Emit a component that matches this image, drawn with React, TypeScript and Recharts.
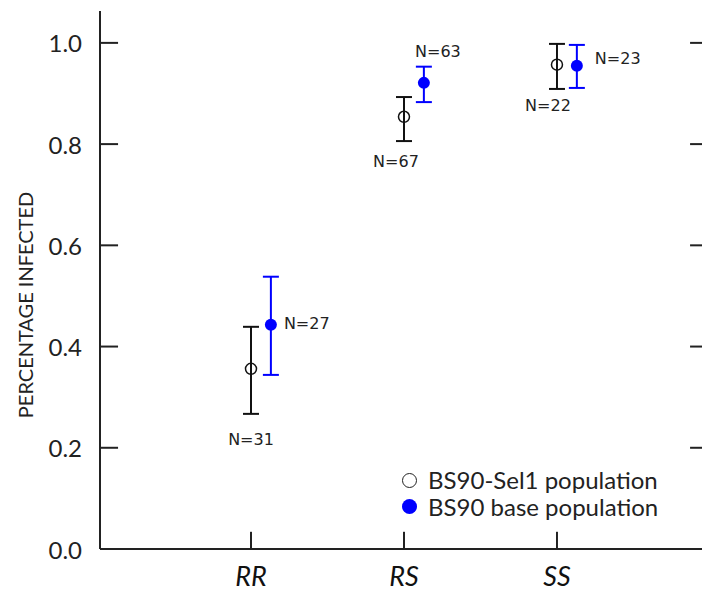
import React from 'react';
import { ScatterChart, Scatter, XAxis, YAxis, ErrorBar, Legend, ReferenceLine } from 'recharts';

// genotype classes along the x axis
const genotypes = ['RR', 'RS', 'SS'];

// BS90-Sel1 population (open circles)
const sel1Mean = [0.356, 0.854, 0.957];
const sel1Low = [0.267, 0.806, 0.909];
const sel1High = [0.439, 0.893, 0.998];
const sel1N = [31, 67, 22];

// BS90 base population (filled blue)
const baseMean = [0.443, 0.921, 0.955];
const baseLow = [0.344, 0.883, 0.911];
const baseHigh = [0.538, 0.953, 0.996];
const baseN = [27, 63, 23];

const yTicks = [0, 0.2, 0.4, 0.6, 0.8, 1.0];
const xTicks = [1, 2, 3];

// where each N= label sits relative to its point
const sel1LabelPos = [
  { dx: 0, dy: 71, anchor: 'middle' },
  { dx: -8, dy: 45, anchor: 'middle' },
  { dx: -9, dy: 41, anchor: 'middle' },
];
const baseLabelPos = [
  { dx: 13, dy: -1, anchor: 'start' },
  { dx: 14, dy: -31, anchor: 'middle' },
  { dx: 18, dy: -7, anchor: 'start' },
];

const BASE_OFFSET = 0.13; // blue points shifted right of the tick

const X_DOMAIN = [0.013, 3.948];
const Y_DOMAIN = [0, 1.063];
// inward tick lengths, in axis units (about 18px / 12px / 17px)
const LEFT_TICK = 0.118;
const RIGHT_TICK = 0.078;
const BOTTOM_TICK = 0.034;

const buildSeries = (mean: number[], low: number[], high: number[], n: number[], shift: number) =>
  mean.map((m, i) => ({
    x: i + 1 + shift,
    y: m,
    err: [m - low[i], high[i] - m],
    n: n[i],
    idx: i,
  }));

const sel1Data = buildSeries(sel1Mean, sel1Low, sel1High, sel1N, 0);
const baseData = buildSeries(baseMean, baseLow, baseHigh, baseN, BASE_OFFSET);

const FONT = 'Lato, "Open Sans", sans-serif';
const INK = '#222';
const AXIS = { stroke: INK, strokeWidth: 2 };

const LeftTick = (props: any) => {
  const { x, y, payload } = props;
  return (
    <text x={Number(x)} y={Number(y)} textAnchor="end" dominantBaseline="central" fontFamily={FONT} fontSize={24} fill={INK}>
      {Number(payload.value).toFixed(1)}
    </text>
  );
};

const BottomTick = (props: any) => {
  const { x, y, payload } = props;
  return (
    <text x={Number(x)} y={Number(y)} textAnchor="middle" dominantBaseline="central" fontFamily={FONT} fontStyle="italic" fontSize={27} fill="#111">
      {genotypes[payload.value - 1]}
    </text>
  );
};

const YLabel = (props: any) => {
  const { viewBox } = props;
  const cx = viewBox.x + 25;
  const cy = viewBox.y + viewBox.height / 2 + 25;
  return (
    <text
      x={cx}
      y={cy}
      transform={`rotate(-90 ${cx} ${cy})`}
      textAnchor="middle"
      dominantBaseline="central"
      fontFamily={FONT}
      fontSize={20}
      fill={INK}
    >
      PERCENTAGE INFECTED
    </text>
  );
};

const makeShape = (filled: boolean, placement: any[]) => (props: any) => {
  const { cx, cy, payload } = props;
  const p = placement[payload.idx];
  return (
    <g>
      {filled ? (
        <circle cx={cx} cy={cy} r={6} fill="#0000ff" />
      ) : (
        <circle cx={cx} cy={cy} r={5.5} fill="none" stroke="#111" strokeWidth={1.5} />
      )}
      <text
        x={cx + p.dx}
        y={cy + p.dy}
        textAnchor={p.anchor}
        dominantBaseline="central"
        fontFamily='"DejaVu Sans", sans-serif'
        fontSize={16}
        fill={INK}
      >
        N={payload.n}
      </text>
    </g>
  );
};

const LegendBox = () => (
  <div style={{ fontFamily: FONT, fontSize: 24, color: INK, lineHeight: '27px' }}>
    <div style={{ display: 'flex', alignItems: 'center' }}>
      <span style={{ display: 'inline-block', width: 13, height: 13, borderRadius: '50%', border: `1.2px solid ${INK}`, margin: '2px 11px 0 1px' }} />
      <span>BS90-Sel1 population</span>
    </div>
    <div style={{ display: 'flex', alignItems: 'center' }}>
      <span style={{ display: 'inline-block', width: 15, height: 15, borderRadius: '50%', background: '#0000ff', margin: '0 11px 0 1px' }} />
      <span>BS90 base population</span>
    </div>
  </div>
);

export default function App() {
  return (
    <div style={{ position: 'absolute', left: 0, top: 0 }}>
      <ScatterChart width={702} height={590} margin={{ top: 11, right: 0, bottom: 0, left: 0 }}>
        <XAxis
          type="number"
          dataKey="x"
          domain={X_DOMAIN}
          ticks={xTicks}
          height={41}
          tickSize={0}
          tickMargin={26}
          tickLine={false}
          axisLine={AXIS}
          tick={<BottomTick />}
          allowDataOverflow
        />
        <XAxis xAxisId="top" orientation="top" type="number" domain={[0, 1]} height={0} tick={false} tickLine={false} axisLine={AXIS} />
        <YAxis
          type="number"
          dataKey="y"
          domain={Y_DOMAIN}
          ticks={yTicks}
          width={100}
          tickSize={0}
          tickMargin={18}
          tickLine={false}
          axisLine={AXIS}
          tick={<LeftTick />}
          allowDataOverflow
          label={<YLabel />}
        />
        {/* inward tick marks on left, right and bottom */}
        {yTicks.map((t) => (
          <ReferenceLine
            key={`l${t}`}
            segment={[{ x: X_DOMAIN[0], y: t }, { x: X_DOMAIN[0] + LEFT_TICK, y: t }]}
            stroke={INK}
            strokeWidth={2}
            ifOverflow="visible"
          />
        ))}
        {yTicks.map((t) => (
          <ReferenceLine
            key={`r${t}`}
            segment={[{ x: X_DOMAIN[1] - RIGHT_TICK, y: t }, { x: X_DOMAIN[1], y: t }]}
            stroke={INK}
            strokeWidth={2}
            ifOverflow="visible"
          />
        ))}
        {xTicks.map((t) => (
          <ReferenceLine
            key={`b${t}`}
            segment={[{ x: t, y: Y_DOMAIN[0] }, { x: t, y: Y_DOMAIN[0] + BOTTOM_TICK }]}
            stroke={INK}
            strokeWidth={2}
            ifOverflow="visible"
          />
        ))}
        <Legend
          layout="vertical"
          align="center"
          verticalAlign="middle"
          content={<LegendBox />}
          wrapperStyle={{ left: 401, top: 466, width: 290 }}
        />
        <Scatter name="BS90-Sel1 population" data={sel1Data} shape={makeShape(false, sel1LabelPos)} isAnimationActive={false}>
          <ErrorBar dataKey="err" direction="y" width={8} stroke="#111" strokeWidth={2} isAnimationActive={false} />
        </Scatter>
        <Scatter name="BS90 base population" data={baseData} shape={makeShape(true, baseLabelPos)} isAnimationActive={false}>
          <ErrorBar dataKey="err" direction="y" width={8} stroke="#0000ff" strokeWidth={2} isAnimationActive={false} />
        </Scatter>
      </ScatterChart>
    </div>
  );
}
